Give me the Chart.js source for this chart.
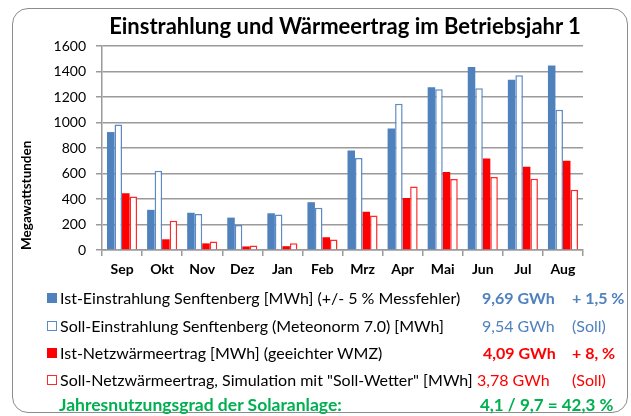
<!DOCTYPE html>
<html>
<head>
<meta charset="utf-8">
<script src="https://cdn.jsdelivr.net/npm/chart.js"></script>
<style>
    body { margin: 0; background: #fff; font-family: Lato, "Open Sans", sans-serif; }
    #wrap { position: relative; width: 631px; height: 416px; overflow: hidden; }
    #frame { position: absolute; left: 12px; top: 8px; width: 614px; height: 403px;
             border: 1.5px solid #8c8c8c; border-radius: 16px; }
    #title { position: absolute; left: 0; width: 690px; top: 11px; line-height: 30px; text-align: center;
             font-weight: bold; font-size: 22px; color: #000; }
    canvas { position: absolute; left: 0; top: 0; }
    .row { position: absolute; height: 20px; line-height: 20px; font-size: 16px; white-space: nowrap; }
    .box { position: absolute; width: 10px; height: 10px; box-sizing: border-box; }
    .lbl { position: absolute; color: #000; }
    .val, .pct { position: absolute; font-size: 16px; }
</style>
</head>
<body>
<div id="wrap">
    <div id="frame"></div>
    <canvas id="myChart" width="631" height="290"></canvas>
    <div id="title">Einstrahlung und Wärmeertrag im Betriebsjahr 1</div>
    <div id="legend"></div>
</div>
<script>
const months = ['Sep', 'Okt', 'Nov', 'Dez', 'Jan', 'Feb', 'Mrz', 'Apr', 'Mai', 'Jun', 'Jul', 'Aug'];
const istEinstrahlung = [925, 315, 292, 254, 288, 375, 780, 952, 1276, 1435, 1336, 1448];
const sollEinstrahlung = [985, 622, 283, 196, 278, 332, 722, 1148, 1260, 1268, 1370, 1100];
const istWaerme = [445, 84, 52, 28, 30, 100, 300, 408, 612, 718, 653, 700];
const sollWaerme = [420, 229, 66, 35, 52, 82, 270, 498, 557, 572, 558, 472];
const yTicks = [0, 200, 400, 600, 800, 1000, 1200, 1400, 1600];

const seriesNames = [
    'Ist-Einstrahlung Senftenberg [MWh] (+/- 5 % Messfehler)',
    'Soll-Einstrahlung Senftenberg (Meteonorm 7.0) [MWh]',
    'Ist-Netzwärmeertrag [MWh] (geeichter WMZ)',
    'Soll-Netzwärmeertrag, Simulation mit "Soll-Wetter" [MWh]'
];
const totals = ['9,69 GWh', '9,54 GWh', '4,09 GWh', '3,78 GWh'];
const remarks = ['+ 1,5 %', '(Soll)', '+ 8, %', '(Soll)'];
const summaryLabel = 'Jahresnutzungsgrad der Solaranlage:';
const summaryValue = '4,1 / 9,7 = 42,3 %';

const blue = '#4f81bd';
const red = '#ff0000';
const green = '#00b050';
const gridColor = '#9a9a9a';

// legend below the chart
const rowCenters = [298, 326, 353, 380];
const legendStyles = [
    { fill: blue, border: blue, color: blue, weight: 'bold', x: 482 },
    { fill: '#fff', border: '#5b8ac6', color: blue, weight: 'normal', x: 482 },
    { fill: red, border: red, color: red, weight: 'bold', x: 483 },
    { fill: '#fff', border: '#ff2a2a', color: red, weight: 'normal', x: 477 }
];
const legend = document.getElementById('legend');
seriesNames.forEach((name, i) => {
    const s = legendStyles[i];
    const row = document.createElement('div');
    row.className = 'row';
    row.style.left = '0px';
    row.style.top = (rowCenters[i] - 10) + 'px';
    row.style.width = '631px';
    row.innerHTML =
        `<div class="box" style="left:47px;top:5px;background:${s.fill};border:1.5px solid ${s.border}"></div>` +
        `<div class="lbl" style="left:60px"></div>` +
        `<div class="val" style="left:${s.x}px;color:${s.color};font-weight:${s.weight}"></div>` +
        `<div class="pct" style="left:572px;color:${s.color};font-weight:${s.weight}"></div>`;
    row.querySelector('.lbl').textContent = name;
    row.querySelector('.val').textContent = totals[i];
    row.querySelector('.pct').textContent = remarks[i];
    legend.appendChild(row);
});
const sumRow = document.createElement('div');
sumRow.className = 'row';
sumRow.style.top = '395px';
sumRow.style.width = '631px';
sumRow.style.fontSize = '17.5px';
sumRow.innerHTML =
    `<div class="lbl" style="left:59px;color:${green};font-weight:bold"></div>` +
    `<div class="val" style="left:480px;color:${green};font-weight:bold;font-size:17px"></div>`;
sumRow.querySelector('.lbl').textContent = summaryLabel;
sumRow.querySelector('.val').textContent = summaryValue;
legend.appendChild(sumRow);

Chart.defaults.font.family = 'Lato, "Open Sans", sans-serif';
Chart.defaults.color = '#000';

const ctx = document.getElementById('myChart').getContext('2d');
new Chart(ctx, {
    type: 'bar',
    data: {
        labels: months,
        datasets: [
            { label: seriesNames[0], data: istEinstrahlung, backgroundColor: blue, borderWidth: 0 },
            { label: seriesNames[1], data: sollEinstrahlung, backgroundColor: '#fff', borderColor: '#5b8ac6', borderWidth: 1.5 },
            { label: seriesNames[2], data: istWaerme, backgroundColor: red, borderWidth: 0 },
            { label: seriesNames[3], data: sollWaerme, backgroundColor: '#fff', borderColor: '#ff2a2a', borderWidth: 1.5 }
        ]
    },
    options: {
        responsive: false,
        animation: false,
        categoryPercentage: 0.75,
        barPercentage: 1.0,
        layout: { padding: { top: 46, right: 48, left: 0, bottom: 0 } },
        plugins: {
            legend: { display: false },
            tooltip: { enabled: false }
        },
        scales: {
            x: {
                afterFit: (scale) => { scale.height = 40; },
                grid: { offset: true, drawOnChartArea: false, color: gridColor, lineWidth: 1.5, tickLength: 6 },
                border: { color: gridColor, width: 1.5 },
                ticks: { font: { size: 14, weight: 'bold' }, padding: 5 }
            },
            y: {
                min: 0,
                max: 1600,
                afterFit: (scale) => { scale.width = 102; },
                afterBuildTicks: (scale) => { scale.ticks = yTicks.map(v => ({ value: v })); },
                grid: { color: gridColor, lineWidth: 1.5, tickLength: 6 },
                border: { color: gridColor, width: 1.5 },
                ticks: { font: { size: 14 }, padding: 10, callback: (value) => String(value) },
                title: {
                    display: true,
                    text: 'Megawattstunden',
                    align: 'start',
                    font: { size: 13.5, weight: 'bold' },
                    padding: { top: 19, bottom: 0 }
                }
            }
        }
    }
});
</script>
</body>
</html>
